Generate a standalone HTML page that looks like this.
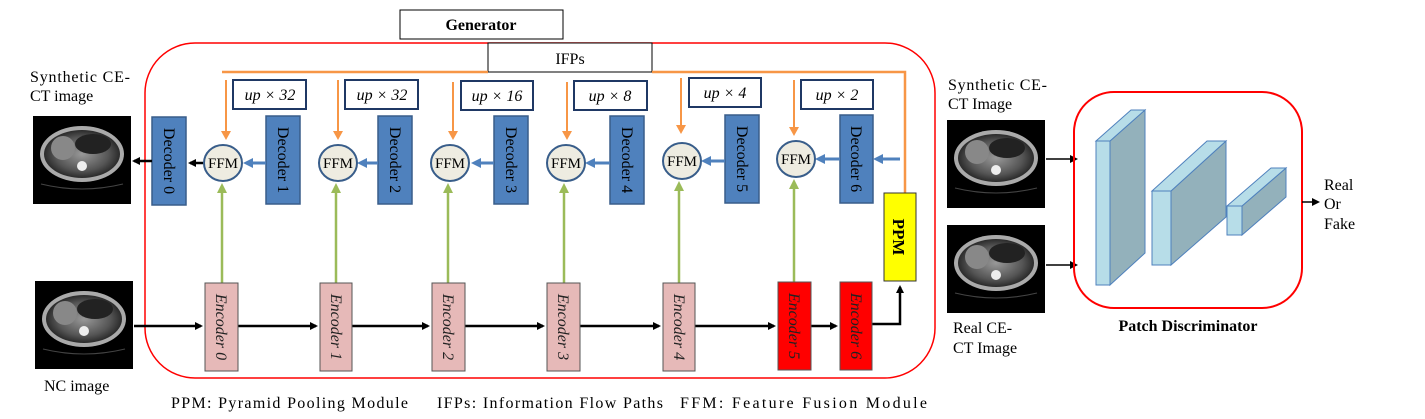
<!DOCTYPE html>
<html><head><meta charset="utf-8"><style>
body{margin:0;background:#fff;}
svg{display:block;font-family:"Liberation Serif",serif;}
</style></head><body>
<svg width="1425" height="419" viewBox="0 0 1425 419" xmlns="http://www.w3.org/2000/svg">
<defs>
<marker id="ab" markerWidth="8" markerHeight="8" refX="6" refY="4" orient="auto" markerUnits="userSpaceOnUse"><path d="M0,0 L8,4 L0,8 z" fill="#000"/></marker>
<marker id="abl" markerWidth="10" markerHeight="10" refX="7" refY="5" orient="auto" markerUnits="userSpaceOnUse"><path d="M0,0 L10,5 L0,10 z" fill="#4f81bd"/></marker>
<marker id="ag" markerWidth="10" markerHeight="10" refX="7" refY="5" orient="auto" markerUnits="userSpaceOnUse"><path d="M0,0 L10,5 L0,10 z" fill="#9bbb59"/></marker>
<radialGradient id="ct" cx="50%" cy="50%" r="50%"><stop offset="0" stop-color="#999"/><stop offset="0.7" stop-color="#555"/><stop offset="1" stop-color="#2a2a2a"/></radialGradient>
<g id="ctimg">
<rect x="0" y="0" width="98" height="88" fill="#000"/>
<ellipse cx="49" cy="38" rx="42" ry="28" fill="#aaa"/>
<ellipse cx="49" cy="38" rx="38" ry="24" fill="url(#ct)"/>
<ellipse cx="30" cy="32" rx="12" ry="12" fill="#888"/>
<ellipse cx="60" cy="28" rx="18" ry="10" fill="#222"/>
<circle cx="49" cy="50" r="5" fill="#eee"/>
<path d="M8,68 Q49,78 90,68" stroke="#444" fill="none"/>
</g>
</defs>

<rect x="400" y="10" width="163" height="29" fill="#fff" stroke="#000"/>
<text x="481" y="30" font-size="16" font-weight="bold" text-anchor="middle">Generator</text>

<rect x="145" y="43" width="790" height="335" rx="50" fill="none" stroke="#f00" stroke-width="1.5"/>
<rect x="488" y="43" width="164" height="29" fill="#fff" stroke="#000"/>
<text x="570" y="64" font-size="16" text-anchor="middle">IFPs</text>

<polyline points="222,72 488,72" stroke="#f79646" stroke-width="2.5" fill="none"/>
<polyline points="652,72 905,72 905,193" stroke="#f79646" stroke-width="2.5" fill="none"/>

<g font-size="16" font-style="italic">
<rect x="233" y="80" width="73" height="29" fill="#fff" stroke="#1f3864" stroke-width="2"/><text x="270" y="100" text-anchor="middle">up × 32</text>
<rect x="345" y="80" width="73" height="29" fill="#fff" stroke="#1f3864" stroke-width="2"/><text x="382" y="100" text-anchor="middle">up × 32</text>
<rect x="461" y="81" width="72" height="29" fill="#fff" stroke="#1f3864" stroke-width="2"/><text x="497" y="101" text-anchor="middle">up × 16</text>
<rect x="574" y="81" width="73" height="29" fill="#fff" stroke="#1f3864" stroke-width="2"/><text x="610" y="101" text-anchor="middle">up × 8</text>
<rect x="689" y="78" width="72" height="29" fill="#fff" stroke="#1f3864" stroke-width="2"/><text x="725" y="98" text-anchor="middle">up × 4</text>
<rect x="801" y="80" width="72" height="29" fill="#fff" stroke="#1f3864" stroke-width="2"/><text x="837" y="100" text-anchor="middle">up × 2</text>
</g>

<g stroke="#f79646" stroke-width="2" fill="#f79646">
<line x1="226" y1="80" x2="226" y2="133"/><path d="M221,131 L226,140 L231,131 z" stroke="none"/>
<line x1="338" y1="80" x2="338" y2="133"/><path d="M333,131 L338,140 L343,131 z" stroke="none"/>
<line x1="453" y1="82" x2="453" y2="133"/><path d="M448,131 L453,140 L458,131 z" stroke="none"/>
<line x1="567" y1="82" x2="567" y2="133"/><path d="M562,131 L567,140 L572,131 z" stroke="none"/>
<line x1="681" y1="78" x2="681" y2="127"/><path d="M676,125 L681,134 L686,125 z" stroke="none"/>
<line x1="794" y1="80" x2="794" y2="129"/><path d="M789,127 L794,136 L799,127 z" stroke="none"/>
</g>

<g fill="#4f81bd" stroke="#385d8a" stroke-width="1.5">
<rect x="152" y="117" width="34" height="88"/>
<rect x="266" y="116" width="34" height="88"/>
<rect x="378" y="116" width="34" height="88"/>
<rect x="494" y="116" width="34" height="88"/>
<rect x="610" y="116" width="34" height="88"/>
<rect x="725" y="115" width="34" height="88"/>
<rect x="840" y="115" width="33" height="88"/>
</g>
<g font-size="16" fill="#000">
<text transform="translate(164,161) rotate(90)" text-anchor="middle">Decoder 0</text>
<text transform="translate(278,160) rotate(90)" text-anchor="middle">Decoder 1</text>
<text transform="translate(390,160) rotate(90)" text-anchor="middle">Decoder 2</text>
<text transform="translate(506,160) rotate(90)" text-anchor="middle">Decoder 3</text>
<text transform="translate(622,160) rotate(90)" text-anchor="middle">Decoder 4</text>
<text transform="translate(737,159) rotate(90)" text-anchor="middle">Decoder 5</text>
<text transform="translate(851,159) rotate(90)" text-anchor="middle">Decoder 6</text>
</g>

<g stroke="#4f81bd" stroke-width="3" marker-end="url(#abl)">
<line x1="266" y1="163" x2="246" y2="163"/>
<line x1="378" y1="163" x2="360" y2="163"/>
<line x1="494" y1="163" x2="474" y2="163"/>
<line x1="610" y1="163" x2="588" y2="163"/>
<line x1="725" y1="161" x2="704" y2="161"/>
<line x1="840" y1="159" x2="818" y2="159"/>
<line x1="900" y1="159" x2="876" y2="159"/>
</g>
<line x1="203" y1="163" x2="190" y2="163" stroke="#000" stroke-width="2.5" marker-end="url(#ab)"/>
<line x1="152" y1="161" x2="134" y2="161" stroke="#000" stroke-width="2.5" marker-end="url(#ab)"/>

<g fill="#eeece1" stroke="#385d8a" stroke-width="2">
<ellipse cx="223" cy="163" rx="19" ry="18"/>
<ellipse cx="338" cy="163" rx="19" ry="18"/>
<ellipse cx="450" cy="163" rx="19" ry="18"/>
<ellipse cx="566" cy="163" rx="19" ry="18"/>
<ellipse cx="682" cy="161" rx="19" ry="18"/>
<ellipse cx="796" cy="159" rx="19" ry="18"/>
</g>
<g font-size="15" text-anchor="middle">
<text x="223" y="168">FFM</text><text x="338" y="168">FFM</text><text x="450" y="168">FFM</text>
<text x="566" y="168">FFM</text><text x="682" y="166">FFM</text><text x="796" y="164">FFM</text>
</g>

<g stroke="#9bbb59" stroke-width="2.5" marker-end="url(#ag)">
<line x1="222" y1="283" x2="222" y2="186"/>
<line x1="336" y1="283" x2="336" y2="186"/>
<line x1="448" y1="283" x2="448" y2="186"/>
<line x1="564" y1="283" x2="564" y2="186"/>
<line x1="679" y1="283" x2="679" y2="184"/>
<line x1="794" y1="282" x2="794" y2="182"/>
</g>

<rect x="884" y="193" width="32" height="88" fill="#ffff00" stroke="#333"/>
<text transform="translate(893,237) rotate(90)" font-size="17" font-weight="bold" text-anchor="middle">PPM</text>

<g stroke="#000" stroke-width="2.5" marker-end="url(#ab)">
<line x1="134" y1="326" x2="201" y2="326"/>
<line x1="238" y1="326" x2="316" y2="326"/>
<line x1="352" y1="326" x2="428" y2="326"/>
<line x1="465" y1="326" x2="543" y2="326"/>
<line x1="580" y1="326" x2="659" y2="326"/>
<line x1="695" y1="326" x2="774" y2="326"/>
<line x1="811" y1="326" x2="836" y2="326"/>
</g>
<polyline points="872,324 900,324 900,287" stroke="#000" stroke-width="2.5" fill="none" marker-end="url(#ab)"/>

<g stroke="#555" stroke-width="1">
<rect x="205" y="283" width="33" height="88" fill="#e6b9b8"/>
<rect x="320" y="283" width="32" height="88" fill="#e6b9b8"/>
<rect x="432" y="283" width="33" height="88" fill="#e6b9b8"/>
<rect x="547" y="283" width="33" height="88" fill="#e6b9b8"/>
<rect x="663" y="283" width="32" height="88" fill="#e6b9b8"/>
<rect x="778" y="282" width="33" height="88" fill="#ff0000"/>
<rect x="840" y="282" width="32" height="88" fill="#ff0000"/>
</g>
<g font-size="16" font-style="italic" fill="#222">
<text transform="translate(216,327) rotate(90)" text-anchor="middle">Encoder 0</text>
<text transform="translate(331,327) rotate(90)" text-anchor="middle">Encoder 1</text>
<text transform="translate(443,327) rotate(90)" text-anchor="middle">Encoder 2</text>
<text transform="translate(558,327) rotate(90)" text-anchor="middle">Encoder 3</text>
<text transform="translate(674,327) rotate(90)" text-anchor="middle">Encoder 4</text>
<text transform="translate(789,326) rotate(90)" text-anchor="middle">Encoder 5</text>
<text transform="translate(851,326) rotate(90)" text-anchor="middle">Encoder 6</text>
</g>

<use href="#ctimg" transform="translate(33,116)"/>
<use href="#ctimg" transform="translate(35,281)"/>
<text x="30" y="82" font-size="16" textLength="100" lengthAdjust="spacing">Synthetic  CE-</text>
<text x="30" y="101" font-size="16">CT image</text>
<text x="44" y="391" font-size="16">NC image</text>

<g font-size="16">
<text x="171" y="408" textLength="237" lengthAdjust="spacing">PPM:  Pyramid  Pooling Module</text>
<text x="437" y="408" textLength="226" lengthAdjust="spacing">IFPs:   Information  Flow Paths</text>
<text x="680" y="408" textLength="247" lengthAdjust="spacing">FFM:   Feature Fusion Module</text>
</g>

<text x="948" y="90" font-size="16" textLength="99" lengthAdjust="spacing">Synthetic  CE-</text>
<text x="948" y="109" font-size="16">CT Image</text>
<use href="#ctimg" transform="translate(947,120)"/>
<use href="#ctimg" transform="translate(947,225)"/>
<text x="953" y="333" font-size="16">Real CE-</text>
<text x="953" y="353" font-size="16">CT Image</text>
<line x1="1046" y1="159" x2="1076" y2="159" stroke="#000" stroke-width="1.5" marker-end="url(#ab)"/>
<line x1="1046" y1="265" x2="1076" y2="265" stroke="#000" stroke-width="1.5" marker-end="url(#ab)"/>

<rect x="1074" y="92" width="228" height="216" rx="40" fill="none" stroke="#f00" stroke-width="2"/>
<g stroke="#4f81bd" stroke-width="1">
<polygon points="1110,141 1145,110 1145,253 1110,285" fill="#93b1bb"/>
<polygon points="1096,141 1110,141 1145,110 1131,110" fill="#b7dde8"/>
<rect x="1096" y="141" width="14" height="144" fill="#b7dde8"/>
<polygon points="1171,191 1226,141 1226,217 1171,265" fill="#93b1bb"/>
<polygon points="1152,191 1171,191 1226,141 1207,141" fill="#b7dde8"/>
<rect x="1152" y="191" width="19" height="74" fill="#b7dde8"/>
<polygon points="1242,206 1286,168 1286,197 1242,235" fill="#93b1bb"/>
<polygon points="1227,206 1242,206 1286,168 1271,168" fill="#b7dde8"/>
<rect x="1227" y="206" width="15" height="29" fill="#b7dde8"/>
</g>
<line x1="1302" y1="202" x2="1318" y2="202" stroke="#000" stroke-width="1.5" marker-end="url(#ab)"/>
<g font-size="16"><text x="1324" y="190">Real</text><text x="1324" y="209">Or</text><text x="1324" y="229">Fake</text></g>
<text x="1188" y="331" font-size="16" font-weight="bold" text-anchor="middle">Patch Discriminator</text>
</svg>
</body></html>
